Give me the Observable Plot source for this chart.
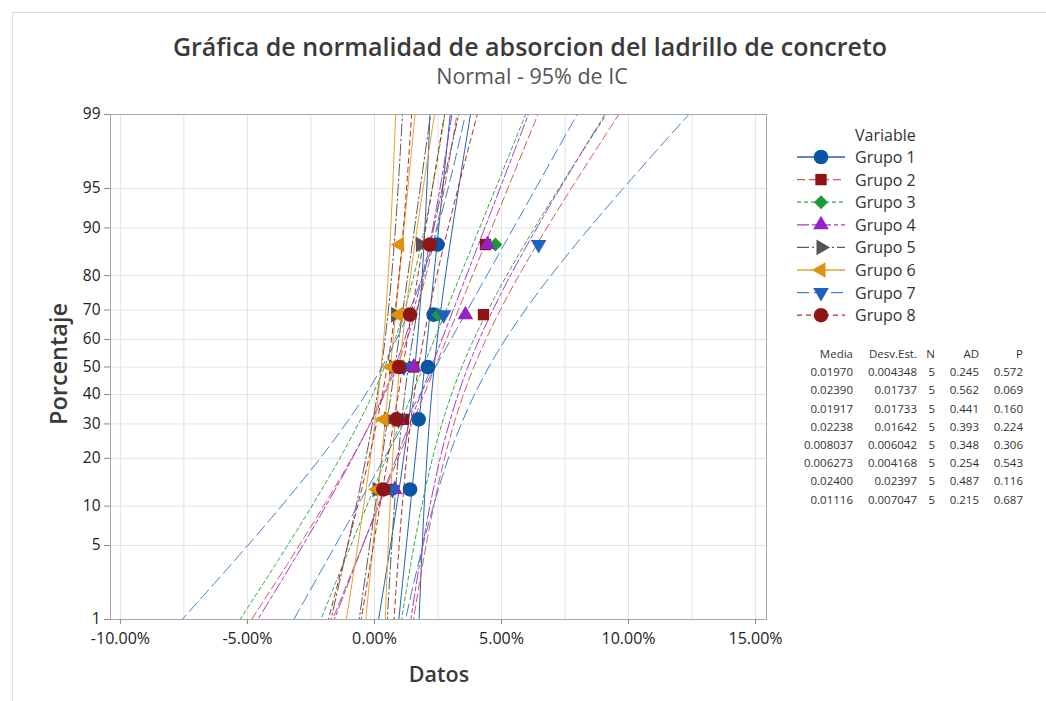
<!DOCTYPE html>
<html>
<head>
<meta charset="utf-8">
<script src="https://cdn.jsdelivr.net/npm/d3@7"></script>
<script src="https://cdn.jsdelivr.net/npm/@observablehq/plot@0.6"></script>
<style>
  body { margin: 0; background: #fff; }
  #root { position: relative; width: 1046px; height: 701px; overflow: hidden; font-family: "Open Sans", "Noto Sans", sans-serif; color: #333; }
  .abs { position: absolute; white-space: nowrap; }
</style>
</head>
<body>
<div id="root">
  <div class="abs" style="left:12px;top:12px;width:1200px;height:900px;border:1px solid #dcdcdc;box-sizing:border-box;"></div>
  <div class="abs" id="title" style="left:530px;top:46px;transform:translate(-50%,-50%);font-size:25px;font-weight:600;color:#3a3a3a;">Gráfica de normalidad de absorcion del ladrillo de concreto</div>
  <div class="abs" id="subtitle" style="left:532px;top:75px;transform:translate(-50%,-50%);font-size:21.5px;color:#555;">Normal - 95% de IC</div>
  <div class="abs" id="chart" style="left:0;top:90px;"></div>
  <div class="abs" style="left:58px;top:364px;transform:translate(-50%,-50%) rotate(-90deg);font-size:23.5px;font-weight:600;color:#3a3a3a;">Porcentaje</div>
  <div class="abs" style="left:439px;top:673px;transform:translate(-50%,-50%);font-size:21.5px;font-weight:600;color:#3a3a3a;">Datos</div>
  <div class="abs" id="legend" style="left:0;top:0;"></div>
  <div class="abs" id="table" style="left:0;top:0;width:1046px;height:701px;"></div>
</div>
<script>
// ---------- data ----------
const groups = ["Grupo 1", "Grupo 2", "Grupo 3", "Grupo 4", "Grupo 5", "Grupo 6", "Grupo 7", "Grupo 8"];
const plotPct = [12.96, 31.48, 50, 68.52, 87.04];   // median-rank plotting positions (%)
const g1 = [0.0140, 0.0174, 0.0210, 0.0233, 0.0248];
const g2 = [0.0061, 0.0114, 0.0154, 0.0429, 0.0437];
const g3 = [0.0045, 0.0075, 0.0110, 0.0252, 0.0476];
const g4 = [0.0080, 0.0090, 0.0155, 0.0358, 0.0445];
const g5 = [0.0010, 0.0055, 0.0075, 0.0083, 0.0181];
const g6 = [0.0010, 0.0037, 0.0066, 0.0095, 0.0099];
const g7 = [0.0071, 0.0095, 0.0116, 0.0272, 0.0646];
const g8 = [0.0035, 0.0087, 0.0097, 0.0140, 0.0218];
const media   = [0.01970, 0.02390, 0.01917, 0.02238, 0.008037, 0.006273, 0.02400, 0.01116];
const desvEst = [0.004348, 0.01737, 0.01733, 0.01642, 0.006042, 0.004168, 0.02397, 0.007047];
const nObs    = [5, 5, 5, 5, 5, 5, 5, 5];
const adStat  = [0.245, 0.562, 0.441, 0.393, 0.348, 0.254, 0.487, 0.215];
const pValue  = [0.572, 0.069, 0.160, 0.224, 0.306, 0.543, 0.116, 0.687];
const yTickPct = [1, 5, 10, 20, 30, 40, 50, 60, 70, 80, 90, 95, 99];
const xTicks = [-0.10, -0.05, 0, 0.05, 0.10, 0.15];
const xGrid = [-0.10, -0.075, -0.05, -0.025, 0, 0.025, 0.05, 0.075, 0.10, 0.125, 0.15];

// ---------- styles ----------
const markerColors = ["#0b55a6", "#8e1414", "#1f9a3a", "#9422c4", "#555555", "#e0920f", "#1d63bd", "#8e1616"];
const lineColors   = ["#1f63b3", "#d65a5a", "#35a947", "#a23ad0", "#5c5c5c", "#e8a130", "#3f83d2", "#b02a2a"];
const dashes = [null, "8,4", "4,3", "12,3,4,3", "12,3,2,3", null, "12,5", "5,4"];

const sqrt3 = Math.sqrt(3);
function triangle(rotDeg) {
  const t = rotDeg * Math.PI / 180, c = Math.cos(t), s = Math.sin(t);
  return {
    draw(ctx, size) {
      const y = -Math.sqrt(size / (sqrt3 * 3));
      const pts = [[0, y * 2], [-sqrt3 * y, -y], [sqrt3 * y, -y]].map(([a, b]) => [a * c - b * s, a * s + b * c]);
      ctx.moveTo(pts[0][0], pts[0][1]);
      ctx.lineTo(pts[1][0], pts[1][1]);
      ctx.lineTo(pts[2][0], pts[2][1]);
      ctx.closePath();
    }
  };
}
const symbols = [d3.symbolCircle, d3.symbolSquare, d3.symbolDiamond2, triangle(0), triangle(90), triangle(-90), triangle(180), d3.symbolCircle];
const radii = [7.3, 6.4, 6.3, 5.8, 5.8, 5.8, 5.8, 7.3];

// ---------- helpers ----------
function probit(p) {
  const a = [-3.969683028665376e+01, 2.209460984245205e+02, -2.759285104469687e+02, 1.383577518672690e+02, -3.066479806614716e+01, 2.506628277459239e+00];
  const b = [-5.447609879822406e+01, 1.615858368580409e+02, -1.556989798598866e+02, 6.680131188771972e+01, -1.328068155288572e+01];
  const c = [-7.784894002430293e-03, -3.223964580411365e-01, -2.400758277161838e+00, -2.549732539343734e+00, 4.374664141464968e+00, 2.938163982698783e+00];
  const d = [7.784695709041462e-03, 3.224671290700398e-01, 2.445134137142996e+00, 3.754408661907416e+00];
  const plow = 0.02425;
  if (p < plow) {
    const q = Math.sqrt(-2 * Math.log(p));
    return (((((c[0]*q+c[1])*q+c[2])*q+c[3])*q+c[4])*q+c[5]) / ((((d[0]*q+d[1])*q+d[2])*q+d[3])*q+1);
  }
  if (p > 1 - plow) {
    const q = Math.sqrt(-2 * Math.log(1 - p));
    return -(((((c[0]*q+c[1])*q+c[2])*q+c[3])*q+c[4])*q+c[5]) / ((((d[0]*q+d[1])*q+d[2])*q+d[3])*q+1);
  }
  const q = p - 0.5, r = q * q;
  return (((((a[0]*r+a[1])*r+a[2])*r+a[3])*r+a[4])*r+a[5])*q / (((((b[0]*r+b[1])*r+b[2])*r+b[3])*r+b[4])*r+1);
}

const values = [g1, g2, g3, g4, g5, g6, g7, g8];
const points = [];
values.forEach((vals, gi) => vals.forEach((v, i) => points.push({g: gi, x: v, z: probit(plotPct[i] / 100)})));

// fitted line and 95% CI bands from the table's Media / Desv.Est.
const zLo = probit(0.01), zHi = probit(0.99);
const zSamples = d3.range(0, 61).map(i => -2.6 + 5.2 * i / 60);
const curves = [];
groups.forEach((g, gi) => {
  const mu = media[gi], sd = desvEst[gi], n = nObs[gi];
  zSamples.forEach(z => {
    const xp = mu + z * sd;
    const hw = 1.96 * sd * Math.sqrt(1 / n + z * z / (2 * (n - 1)));
    curves.push({g: gi, kind: "fit", z, x: xp});
    curves.push({g: gi, kind: "lo", z, x: xp - hw});
    curves.push({g: gi, kind: "hi", z, x: xp + hw});
  });
});

const yTickZ = yTickPct.map(p => probit(p / 100));
const fmtPct = v => d3.format(".2%")(v).replace("\u2212", "-");

const marks = [
  Plot.gridX(xGrid, {stroke: "#e3e3e3", strokeOpacity: 1}),
  Plot.gridY(yTickZ, {stroke: "#e3e3e3", strokeOpacity: 1}),
];
groups.forEach((g, gi) => {
  marks.push(Plot.line(curves.filter(d => d.g === gi), {
    x: "x", y: "z", z: "kind", stroke: lineColors[gi], strokeWidth: 1,
    strokeDasharray: dashes[gi] || undefined, clip: true
  }));
});
groups.forEach((g, gi) => {
  marks.push(Plot.dot(points.filter(d => d.g === gi), {
    x: "x", y: "z", fill: markerColors[gi], stroke: "none", symbol: symbols[gi], r: radii[gi]
  }));
});
marks.push(Plot.frame({stroke: "#a8a8a8"}));
marks.push(Plot.axisX(xTicks, {tickFormat: fmtPct, label: null, tickSize: 5, tickPadding: 8, fontSize: 16, stroke: "#8a8a8a", color: "#222"}));
marks.push(Plot.axisY(yTickZ, {
  tickFormat: z => String(yTickPct[yTickZ.findIndex(v => Math.abs(v - z) < 1e-9)]),
  label: null, tickSize: 6, tickPadding: 4, fontSize: 15.5, stroke: "#8a8a8a"
}));

const chart = Plot.plot({
  width: 780,
  height: 609,
  marginLeft: 110,
  marginRight: 14,
  marginTop: 24,
  marginBottom: 80,
  x: {domain: [-0.1039, 0.1543]},
  y: {domain: [zLo, zHi]},
  style: {background: "transparent", fontFamily: "'Open Sans', 'Noto Sans', sans-serif", color: "#222", overflow: "visible"},
  marks
});
document.getElementById("chart").appendChild(chart);

// ---------- legend ----------
const legend = d3.select("#legend");
legend.append("div").attr("class", "abs")
  .style("left", "855px").style("top", "124px").style("font-size", "16px").style("color", "#333")
  .text("Variable");
const lsvg = legend.append("svg").attr("width", 60).attr("height", 200)
  .style("position", "absolute").style("left", "795px").style("top", "146px").style("overflow", "visible");
const rowH = 22.6;
groups.forEach((g, gi) => {
  const cy = 11 + gi * rowH;
  lsvg.append("line").attr("x1", 2).attr("x2", 50).attr("y1", cy).attr("y2", cy)
    .attr("stroke", lineColors[gi]).attr("stroke-width", 1.3)
    .attr("stroke-dasharray", dashes[gi]);
  lsvg.append("path").attr("transform", `translate(26,${cy})`)
    .attr("d", d3.symbol(symbols[gi], Math.PI * radii[gi] * radii[gi])())
    .attr("fill", markerColors[gi]);
  legend.append("div").attr("class", "abs")
    .style("left", "855px").style("top", `${146 + cy - 11}px`).style("font-size", "16px").style("color", "#333")
    .text(g);
});

// ---------- statistics table ----------
const table = d3.select("#table");
const cols = [
  {head: "Media", right: 853, f: i => d3.format(".4g")(media[i])},
  {head: "Desv.Est.", right: 917, f: i => d3.format(".4g")(desvEst[i])},
  {head: "N", right: 935, f: i => String(nObs[i])},
  {head: "AD", right: 979, f: i => d3.format(".3f")(adStat[i])},
  {head: "P", right: 1023, f: i => d3.format(".3f")(pValue[i])}
];
cols.forEach(c => {
  const cells = [c.head].concat(groups.map((g, i) => c.f(i)));
  cells.forEach((t, r) => {
    table.append("div").attr("class", "abs")
      .style("right", `${1046 - c.right}px`)
      .style("top", `${354 + r * 18.2 - 8}px`)
      .style("font-size", "11.5px").style("color", "#333").style("line-height", "16px")
      .text(t);
  });
});
</script>
</body>
</html>
